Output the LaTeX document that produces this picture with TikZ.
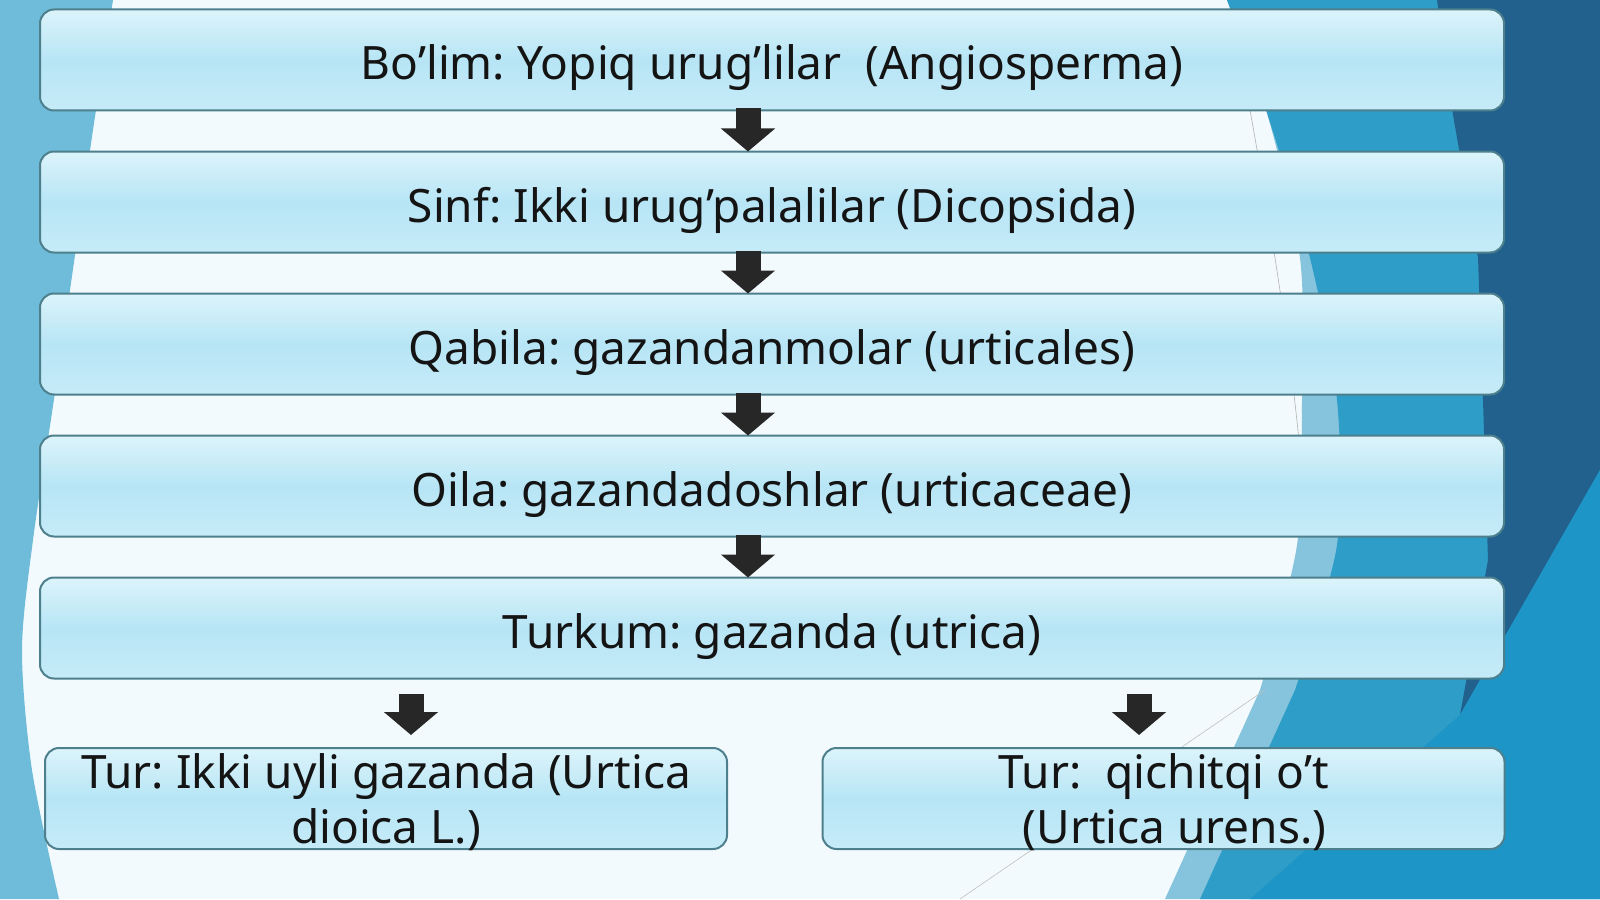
\documentclass[tikz,border=0pt]{standalone}
\usepackage{fontspec}
\setmainfont{Noto Sans}
\usetikzlibrary{arrows.meta}
\frenchspacing

\definecolor{bgwhite}{HTML}{F3FAFD}
\definecolor{leftblue}{HTML}{6EBCD9}
\definecolor{bandblue}{HTML}{86C4DD}
\definecolor{midblue}{HTML}{2E9DC8}
\definecolor{darkblue}{HTML}{22618E}
\definecolor{brightblue}{HTML}{1E95C7}
\definecolor{boxtop}{HTML}{DCF4FB}
\definecolor{boxfill}{HTML}{B7E5F5}
\definecolor{boxbot}{HTML}{C6EBF8}
\definecolor{boxline}{HTML}{4D7F8C}
\definecolor{arrowc}{HTML}{272727}
\definecolor{ink}{HTML}{141414}

\begin{document}
\begin{tikzpicture}[x=0.5pt,y=-0.5pt,node distance=71pt,
    base/.style={draw=boxline,line width=1pt,rounded corners=7pt,
      top color=boxtop,bottom color=boxbot,middle color=boxfill,
      text=ink,minimum height=50.5pt,font=\fontsize{23}{27.5}\selectfont},
    box/.style={base,minimum width=732pt,text height=20pt,text depth=0pt},
    tur/.style={base,minimum width=341pt,inner sep=0pt,align=center},
    arr/.style={draw=arrowc,line width=12.5pt,line cap=butt,
      -{Triangle[width=26.5pt,length=11.5pt]}}]

      \useasboundingbox (0,0) rectangle (1600,899);
      \fill[bgwhite] (0,0) rectangle (1600,899);
      \fill[leftblue] (0,0) -- plot[smooth] coordinates {(113,0) (93,130) (70,290) (53,406) (33,540) (22,650) (32,770) (59,899)} -- (0,899) -- cycle;
      \fill[bandblue] (1600,0) -- plot[smooth] coordinates {(1227,0) (1267,113) (1300,258) (1302,400) (1297,545) (1260,690)} -- (1165,899) -- (1600,899) -- cycle;
      \fill[midblue] (1600,0) -- plot[smooth] coordinates {(1227,0) (1267,113) (1310,258) (1337,400) (1337,545) (1295,690)} -- (1200,899) -- (1600,899) -- cycle;
      \fill[darkblue] (1437,0) -- (1600,0) -- (1600,470) -- (1460,715) -- (1488,560) -- (1483,400) -- (1478,258) -- (1453,115) -- cycle;
      \fill[brightblue] (1600,470) -- (1460,715) -- (1250,899) -- (1600,899) -- cycle;
      \draw[gray!60,line width=0.3pt] (1250,110) .. controls (1275,250) and (1290,350) .. (1300,450);
      \draw[gray!50,line width=0.3pt] (960,899) -- (1265,690);

      \node (1) [box] at (772,60) {Bo’lim: Yopiq urug’lilar~ (Angiosperma)};
      \node (2) [box,below of=1] {Sinf: Ikki urug’palalilar (Dicopsida)};
      \node (3) [box,below of=2] {Qabila: gazandanmolar (urticales)};
      \node (4) [box,below of=3] {Oila: gazandadoshlar (urticaceae)};
      \node (5) [box,below of=4] {Turkum: gazanda (utrica)};
      \node (6) [tur,below of=5,xshift=-193pt,yshift=-14.25pt] {Tur: Ikki uyli gazanda (Urtica\\\smash{dioica L.)}};
      \node (7) [tur,below of=5,xshift=195.75pt,yshift=-14.25pt] {Tur:~ qichitqi o’t\\\smash{\hspace{11pt}(Urtica urens.)}};

      \draw[arr] ([xshift=-12pt,yshift=1.5pt]1.south) -- ([xshift=-12pt,yshift=-0.5pt]2.north);
      \draw[arr] ([xshift=-12pt,yshift=1.5pt]2.south) -- ([xshift=-12pt,yshift=-0.5pt]3.north);
      \draw[arr] ([xshift=-12pt,yshift=1.5pt]3.south) -- ([xshift=-12pt,yshift=-0.5pt]4.north);
      \draw[arr] ([xshift=-12pt,yshift=1.5pt]4.south) -- ([xshift=-12pt,yshift=-0.5pt]5.north);
      \draw[arr] ([xshift=-180.5pt,yshift=-7pt]5.south) -- ([xshift=12.5pt,yshift=6pt]6.north);
      \draw[arr] ([xshift=183.5pt,yshift=-7pt]5.south) -- ([xshift=-12.25pt,yshift=6pt]7.north);

    \end{tikzpicture}
\end{document}
